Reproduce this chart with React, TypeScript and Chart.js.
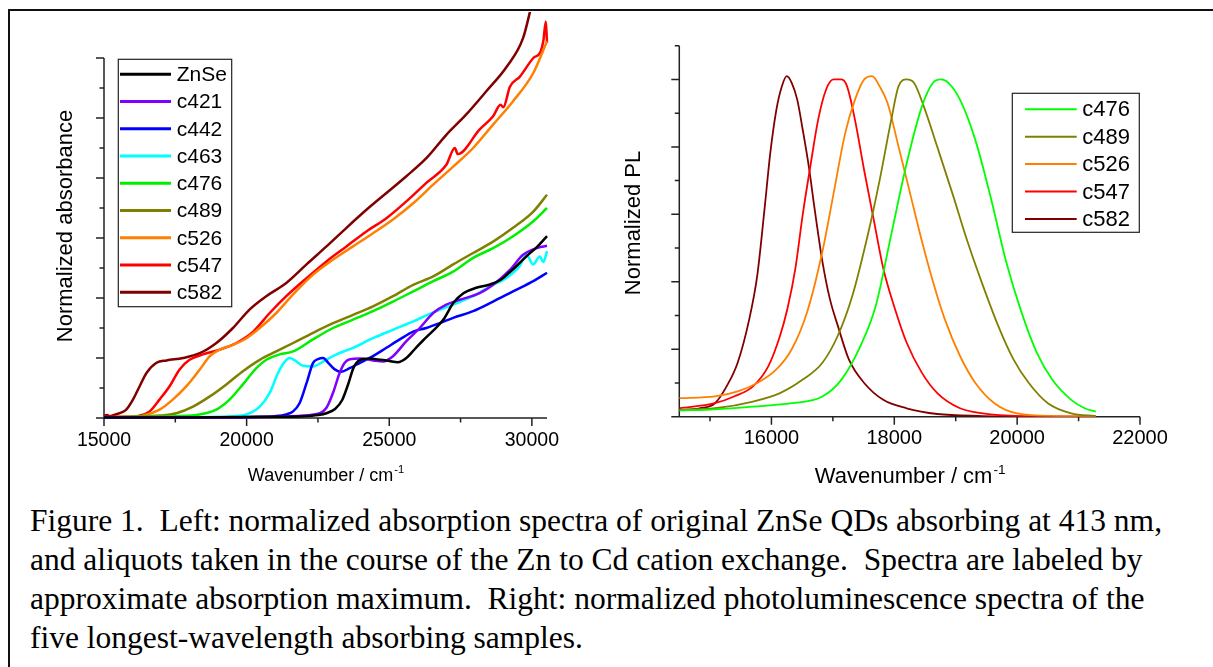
import React, { useEffect, useRef } from "react";
import { Chart, registerables } from "chart.js";

Chart.register(...registerables);

const SANS = "'Liberation Sans', Arial, sans-serif";

// ---------- Left panel: normalized absorbance ----------
const absLabels = ["ZnSe", "c421", "c442", "c463", "c476", "c489", "c526", "c547", "c582"];
const absColors = ["#000000", "#8000ff", "#0000ff", "#00ffff", "#00f000", "#808000", "#ff8000", "#ff0000", "#800000"];

const absZnSe: [number, number][] = [[15000,0.01],[18000,0.01],[21000,0.02],[22000,0.03],[22500,0.05],[22800,0.08],[23100,0.15],[23350,0.3],[23550,0.55],[23750,0.84],[23950,0.96],[24300,0.99],[24700,0.97],[25000,0.95],[25300,0.93],[25600,1.0],[25900,1.15],[26200,1.3],[26550,1.46],[26900,1.64],[27250,1.92],[27600,2.08],[28050,2.17],[28500,2.22],[28900,2.3],[29200,2.42],[29500,2.55],[29800,2.69],[30200,2.86],[30530,3.03]];
const absC421: [number, number][] = [[15000,0.01],[18000,0.01],[21000,0.02],[22000,0.04],[22350,0.06],[22560,0.08],[22800,0.17],[23030,0.42],[23260,0.75],[23440,0.92],[23620,0.98],[23970,0.99],[24430,0.96],[24780,0.94],[25130,1.03],[25600,1.28],[26070,1.5],[26540,1.75],[27000,1.89],[27470,1.97],[28170,2.08],[28640,2.22],[29230,2.47],[29690,2.72],[30050,2.81],[30300,2.85],[30530,2.87]];
const absC442: [number, number][] = [[15000,0.01],[19000,0.01],[20500,0.02],[21000,0.03],[21390,0.06],[21630,0.11],[21860,0.25],[22100,0.58],[22330,0.92],[22500,0.98],[22680,1.0],[22860,0.92],[23090,0.81],[23320,0.77],[23610,0.83],[23970,0.92],[24430,1.03],[24900,1.17],[25370,1.31],[25840,1.44],[26300,1.5],[26770,1.58],[27240,1.67],[27940,1.78],[28640,1.94],[29340,2.11],[30050,2.28],[30530,2.42]];
const absC463: [number, number][] = [[15000,0.01],[18000,0.01],[19000,0.02],[19500,0.03],[19990,0.06],[20460,0.19],[20810,0.42],[21100,0.75],[21340,0.94],[21510,1.0],[21690,0.96],[21980,0.87],[22330,0.86],[22680,0.94],[23150,1.06],[23730,1.17],[24430,1.33],[25130,1.47],[25840,1.61],[26540,1.76],[27240,1.89],[27940,2.03],[28640,2.22],[29000,2.3],[29340,2.42],[29570,2.53],[29810,2.72],[30040,2.56],[30280,2.69],[30400,2.6],[30530,2.78]];
const absC476: [number, number][] = [[15000,0.01],[16500,0.02],[17500,0.03],[18350,0.06],[18940,0.14],[19410,0.31],[19870,0.56],[20340,0.83],[20690,0.97],[21160,1.06],[21630,1.11],[22330,1.31],[23030,1.5],[23730,1.64],[24430,1.78],[25130,1.94],[25840,2.11],[26540,2.28],[27240,2.44],[27940,2.67],[28640,2.83],[29340,3.03],[30050,3.28],[30530,3.5]];
const absC489: [number, number][] = [[15000,0.01],[16000,0.02],[16950,0.04],[17540,0.08],[18120,0.19],[18710,0.36],[19290,0.56],[19870,0.78],[20460,0.97],[21040,1.11],[21630,1.25],[22330,1.42],[23030,1.58],[23730,1.72],[24430,1.86],[25130,2.03],[25840,2.22],[26540,2.36],[27240,2.56],[27940,2.75],[28640,2.94],[29340,3.17],[30050,3.44],[30530,3.72]];
const absC526: [number, number][] = [[15000,0.01],[15800,0.02],[16370,0.04],[16950,0.14],[17420,0.31],[17890,0.53],[18360,0.81],[18710,1.03],[19060,1.14],[19520,1.22],[19990,1.33],[20460,1.5],[21040,1.75],[21630,2.06],[22330,2.39],[23030,2.64],[23730,2.86],[24430,3.08],[25130,3.31],[25840,3.58],[26540,3.89],[27240,4.19],[27940,4.5],[28640,4.89],[29340,5.28],[30050,5.75],[30530,6.28]];
const absC547: [number, number][] = [[15000,0.02],[15700,0.02],[16250,0.04],[16600,0.11],[16950,0.31],[17300,0.53],[17650,0.81],[18000,0.97],[18470,1.06],[19060,1.14],[19640,1.25],[20230,1.44],[20810,1.75],[21390,2.03],[22100,2.33],[22800,2.61],[23500,2.86],[24200,3.11],[24900,3.33],[25600,3.61],[26300,3.92],[27000,4.22],[27300,4.5],[27400,4.4],[28170,4.81],[28640,5.03],[28900,5.22],[29000,5.18],[29230,5.52],[29580,5.69],[30050,6.0],[30300,6.1],[30400,6.28],[30490,6.61],[30530,6.25]];
const absC582: [number, number][] = [[15000,0.03],[15100,0.05],[15200,0.03],[15350,0.05],[15550,0.08],[15780,0.14],[16020,0.31],[16250,0.53],[16490,0.75],[16840,0.92],[17190,0.96],[17770,1.0],[18360,1.08],[18940,1.25],[19520,1.5],[20110,1.81],[20690,2.03],[21390,2.25],[22100,2.56],[22800,2.86],[23500,3.17],[24200,3.47],[24900,3.75],[25600,4.03],[26300,4.33],[27000,4.72],[27700,5.06],[28410,5.45],[29110,5.85],[29690,6.33],[30000,6.9]];
const absSeries = [absZnSe, absC421, absC442, absC463, absC476, absC489, absC526, absC547, absC582];

const absXMajor = [15000, 20000, 25000, 30000];
const absXMinor = [17500, 22500, 27500];
const absYMajor = [0, 1, 2, 3, 4, 5, 6];
const absYMinor = [0.5, 1.5, 2.5, 3.5, 4.5, 5.5];

// ---------- Right panel: normalized PL ----------
const plLabels = ["c476", "c489", "c526", "c547", "c582"];
const plColors = ["#00ff00", "#808000", "#ff8000", "#ff0000", "#800000"];

const plC476: [number, number][] = [[14500,0.018],[15080,0.022],[15700,0.03],[16330,0.04],[16830,0.06],[17140,0.11],[17450,0.21],[17700,0.33],[17950,0.54],[18200,0.75],[18450,0.92],[18630,0.99],[18760,1.0],[18880,0.99],[19070,0.94],[19320,0.82],[19570,0.65],[19820,0.46],[20070,0.31],[20320,0.19],[20570,0.11],[20880,0.05],[21100,0.025],[21280,0.015]];
const plC489: [number, number][] = [[14500,0.02],[15080,0.025],[15700,0.045],[16140,0.07],[16510,0.11],[16830,0.16],[17080,0.24],[17320,0.36],[17570,0.54],[17760,0.7],[17950,0.88],[18070,0.98],[18200,1.0],[18320,0.99],[18480,0.92],[18700,0.8],[18950,0.66],[19190,0.52],[19440,0.39],[19690,0.27],[19940,0.17],[20190,0.1],[20500,0.04],[20880,0.01],[21280,0.002]];
const plC526: [number, number][] = [[14500,0.055],[15080,0.06],[15450,0.075],[15770,0.1],[16080,0.14],[16330,0.2],[16580,0.31],[16830,0.49],[17010,0.66],[17200,0.84],[17360,0.94],[17510,1.0],[17640,1.01],[17760,0.98],[17890,0.93],[18070,0.8],[18260,0.66],[18450,0.52],[18630,0.4],[18820,0.29],[19070,0.18],[19320,0.1],[19630,0.04],[20000,0.01],[20690,0.002],[21280,0]];
const plC547: [number, number][] = [[14500,0.025],[15080,0.04],[15390,0.06],[15700,0.09],[15950,0.15],[16140,0.24],[16260,0.32],[16390,0.44],[16510,0.6],[16640,0.75],[16760,0.88],[16890,0.97],[17010,1.0],[17140,1.0],[17230,0.98],[17360,0.88],[17510,0.73],[17670,0.58],[17820,0.44],[18010,0.32],[18200,0.22],[18450,0.13],[18700,0.07],[19070,0.025],[19440,0.01],[20070,0.002],[21280,0]];
const plC582: [number, number][] = [[14500,0.02],[14830,0.025],[15080,0.04],[15270,0.09],[15450,0.16],[15640,0.29],[15770,0.42],[15890,0.62],[15980,0.78],[16080,0.91],[16170,0.98],[16250,1.01],[16330,0.99],[16420,0.94],[16510,0.85],[16610,0.74],[16700,0.62],[16830,0.46],[16950,0.35],[17080,0.27],[17260,0.17],[17510,0.1],[17820,0.05],[18200,0.025],[18700,0.008],[19440,0.002],[20070,0],[21280,0]];
const plSeries = [plC476, plC489, plC526, plC547, plC582];

const plXMajor = [16000, 18000, 20000, 22000];
const plXMinor = [15000, 17000, 19000, 21000];
const plYMajor = [0, 0.2, 0.4, 0.6, 0.8, 1.0];
const plYMinor = [0.1, 0.3, 0.5, 0.7, 0.9, 1.1];

const captionLines = [
  "Figure 1.\u00a0 Left: normalized absorption spectra of original ZnSe QDs absorbing at 413 nm,",
  "and aliquots taken in the course of the Zn to Cd cation exchange.\u00a0 Spectra are labeled by",
  "approximate absorption maximum.\u00a0 Right: normalized photoluminescence spectra of the",
  "five longest-wavelength absorbing samples.",
];

// ---------- plugin: axes, ticks, titles, legend ----------
const decor = {
  id: "decor",
  beforeDatasetsDraw(chart: any, _args: any, o: any) {
    const { ctx, chartArea: a } = chart;
    const xs = chart.scales.x;
    const ys = chart.scales.y;
    ctx.save();
    ctx.strokeStyle = "#222";
    ctx.lineWidth = 1.5;
    ctx.beginPath();
    ctx.moveTo(a.left, a.top);
    ctx.lineTo(a.left, a.bottom);
    ctx.moveTo(a.left, a.bottom);
    ctx.lineTo(a.right, a.bottom);
    const xt = (vals: number[], len: number) =>
      vals.forEach((v) => {
        const p = xs.getPixelForValue(v);
        ctx.moveTo(p, a.bottom);
        ctx.lineTo(p, a.bottom + len);
      });
    const yt = (vals: number[], len: number) =>
      vals.forEach((v) => {
        const p = ys.getPixelForValue(v);
        ctx.moveTo(a.left - len, p);
        ctx.lineTo(a.left, p);
      });
    xt(o.xMajor, 8);
    xt(o.xMinor, 4.5);
    yt(o.yMajor, 8);
    yt(o.yMinor, 4.5);
    ctx.stroke();

    // x title with superscript
    ctx.fillStyle = "#000";
    ctx.textBaseline = "alphabetic";
    ctx.textAlign = "left";
    const fs = o.xTitleSize;
    ctx.font = `${fs}px ${SANS}`;
    const w1 = ctx.measureText(o.xTitle).width;
    ctx.font = `${fs * 0.62}px ${SANS}`;
    const w2 = ctx.measureText(o.xTitleSup).width;
    const cx = (a.left + a.right) / 2;
    const sx = cx - (w1 + w2) / 2;
    ctx.font = `${fs}px ${SANS}`;
    ctx.fillText(o.xTitle, sx, o.xTitleBaseline);
    ctx.font = `${fs * 0.62}px ${SANS}`;
    ctx.fillText(o.xTitleSup, sx + w1 + 1, o.xTitleBaseline - fs * 0.42);

    // y title
    ctx.save();
    ctx.translate(o.yTitleX, o.yTitleY);
    ctx.rotate(-Math.PI / 2);
    ctx.textAlign = "center";
    ctx.textBaseline = "middle";
    ctx.font = `${o.yTitleSize}px ${SANS}`;
    ctx.fillText(o.yTitle, 0, 0);
    ctx.restore();
    ctx.restore();
  },
  afterDatasetsDraw(chart: any, _args: any, o: any) {
    const { ctx } = chart;
    const L = o.legend;
    ctx.save();
    ctx.fillStyle = "#fff";
    ctx.fillRect(L.x, L.y, L.w, L.h);
    ctx.strokeStyle = "#222";
    ctx.lineWidth = 1.2;
    ctx.strokeRect(L.x, L.y, L.w, L.h);
    ctx.font = `${L.size}px ${SANS}`;
    ctx.textAlign = "left";
    ctx.textBaseline = "middle";
    chart.data.datasets.forEach((ds: any, i: number) => {
      const yy = L.row0 + i * L.step;
      ctx.strokeStyle = ds.borderColor;
      ctx.lineWidth = L.lineWidth;
      ctx.beginPath();
      ctx.moveTo(L.line0, yy);
      ctx.lineTo(L.line1, yy);
      ctx.stroke();
      ctx.fillStyle = "#000";
      ctx.fillText(ds.label, L.textX, yy + 1);
    });
    ctx.restore();
  },
};

function makeConfig(
  labels: string[],
  colors: string[],
  series: [number, number][][],
  lineWidth: number,
  clip: boolean,
  xMin: number,
  xMax: number,
  yMax: number,
  xMajor: number[],
  tickSize: number,
  tickPad: number,
  padding: any,
  xHeight: number,
  decorOpts: any
): any {
  return {
    type: "line",
    data: {
      datasets: labels.map((l, i) => ({
        label: l,
        data: series[i].map(([x, y]) => ({ x, y })),
        borderColor: colors[i],
        backgroundColor: colors[i],
        borderWidth: lineWidth,
        pointRadius: 0,
        fill: false,
        clip: clip ? undefined : false,
        cubicInterpolationMode: "monotone",
      })),
    },
    options: {
      responsive: false,
      animation: false,
      layout: { padding },
      plugins: { legend: { display: false }, tooltip: { enabled: false }, decor: decorOpts },
      scales: {
        x: {
          type: "linear",
          min: xMin,
          max: xMax,
          grid: { display: false, drawTicks: false },
          border: { display: false },
          ticks: {
            color: "#000",
            font: { family: SANS, size: tickSize },
            padding: tickPad,
            maxRotation: 0,
            autoSkip: false,
            callback: (v: any) => String(v),
          },
          afterBuildTicks: (s: any) => {
            s.ticks = xMajor.map((v) => ({ value: v }));
          },
          afterFit: (s: any) => {
            s.height = xHeight;
          },
        },
        y: { type: "linear", display: false, min: 0, max: yMax },
      },
    },
    plugins: [decor],
  };
}

export default function App() {
  const leftRef = useRef<HTMLCanvasElement>(null);
  const rightRef = useRef<HTMLCanvasElement>(null);

  useEffect(() => {
    const left = new Chart(
      leftRef.current as HTMLCanvasElement,
      makeConfig(absLabels, absColors, absSeries, 2.5, false, 15000, 30530, 6, absXMajor, 19.5, 11,
        { left: 94, right: 53, top: 46, bottom: 0 }, 72,
        {
          xMajor: absXMajor, xMinor: absXMinor, yMajor: absYMajor, yMinor: absYMinor,
          xTitle: "Wavenumber / cm", xTitleSup: "-1", xTitleSize: 18, xTitleBaseline: 469,
          yTitle: "Normalized absorbance", yTitleSize: 22, yTitleX: 56, yTitleY: 214,
          legend: { x: 108.3, y: 47.3, w: 113.4, h: 247.4, row0: 62.3, step: 27.25, line0: 110, line1: 161, textX: 166.7, size: 21, lineWidth: 3 },
        })
    );
    const right = new Chart(
      rightRef.current as HTMLCanvasElement,
      makeConfig(plLabels, plColors, plSeries, 1.8, true, 14500, 22000, 1.1, plXMajor, 20, 10,
        { left: 79.3, right: 60, top: 33.7, bottom: 0 }, 73.3,
        {
          xMajor: plXMajor, xMinor: plXMinor, yMajor: plYMajor, yMinor: plYMinor,
          xTitle: "Wavenumber / cm", xTitleSup: "-1", xTitleSize: 22, xTitleBaseline: 471,
          yTitle: "Normalized PL", yTitleSize: 22, yTitleX: 34, yTitleY: 211,
          legend: { x: 412.3, y: 81.3, w: 127, h: 139, row0: 97.3, step: 27.4, line0: 425, line1: 476.7, textX: 482.3, size: 22, lineWidth: 2 },
        })
    );
    return () => {
      left.destroy();
      right.destroy();
    };
  }, []);

  return (
    <div style={{ position: "absolute", left: 0, top: 0, width: 1213, height: 667, overflow: "hidden", background: "#fff" }}>
      <div style={{ position: "absolute", left: 8, top: 9, width: 1400, height: 900, border: "2px solid #111" }} />
      <div style={{ position: "absolute", left: 10, top: 12, width: 590, height: 478 }}>
        <canvas ref={leftRef} width={590} height={478} style={{ width: 590, height: 478, display: "block" }} />
      </div>
      <div style={{ position: "absolute", left: 600, top: 12, width: 600, height: 478 }}>
        <canvas ref={rightRef} width={600} height={478} style={{ width: 600, height: 478, display: "block" }} />
      </div>
      <div
        style={{
          position: "absolute",
          left: 30,
          top: 501,
          fontFamily: "'Liberation Serif', 'Times New Roman', serif",
          fontSize: 31.5,
          lineHeight: "39px",
          color: "#000",
          whiteSpace: "nowrap",
        }}
      >
        {captionLines.map((t, i) => (
          <div key={i}>{t}</div>
        ))}
      </div>
    </div>
  );
}
